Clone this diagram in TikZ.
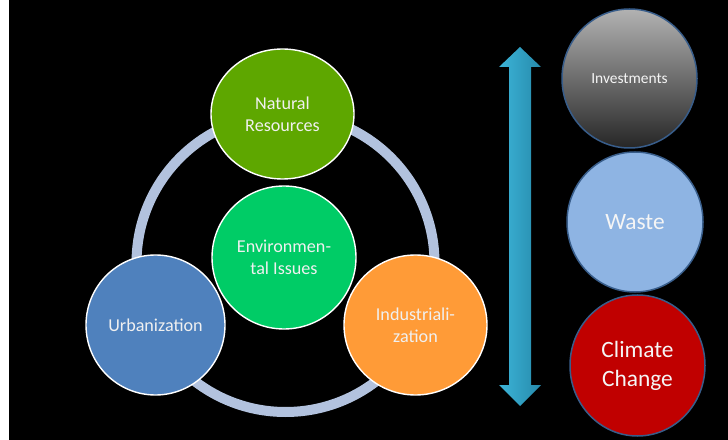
\documentclass[tikz,border=0pt]{standalone}
\usepackage{fontspec}
\setmainfont{Carlito}
\usetikzlibrary{shapes.geometric}
\definecolor{ringBlue}{RGB}{178,194,222}
\definecolor{natGreen}{RGB}{94,167,0}
\definecolor{envGreen}{RGB}{0,204,102}
\definecolor{urbBlue}{RGB}{79,129,189}
\definecolor{indOrange}{RGB}{255,155,55}
\definecolor{wasteBlue}{RGB}{142,180,227}
\definecolor{climRed}{RGB}{192,0,0}
\definecolor{ballEdge}{RGB}{56,93,138}
\definecolor{arrowLight}{RGB}{60,180,215}
\definecolor{arrowDark}{RGB}{38,138,172}
\begin{document}
\begin{tikzpicture}
[x=1bp,y=-1bp,%
  ringLine/.style={line width=10bp,color=ringBlue},%
  leftBall/.style={shape=ellipse,inner sep=0pt,draw=white,line width=1.4bp,text=white!94!black,align=center,font=\fontsize{18.2}{22}\selectfont},%
  rightBall/.style={shape=ellipse,inner sep=0pt,draw=ballEdge,line width=1.5bp,text=white!96!black,align=center,font=\fontsize{23.5}{29}\selectfont}]
%% background
\useasboundingbox (0,0) rectangle (728,440);
\fill[black] (9,0) rectangle (728,440);
%% ring behind the circles
\draw[ringLine] (285.5,263) circle [radius=149];
%% left circles
\foreach \nodename/\x/\y/\w/\h/\c/\txt in {natres/282.5/114/143/130/natGreen/{Natural\\Resources},
  envir/284/257.5/144/143/envGreen/{Environmen-\\tal Issues},
  urban/155.5/325/139/140/urbBlue/{Urbanization},
  indus/415.5/325/143/140/indOrange/{Industriali-\\zation}}
{
  \node (\nodename) at (\x,\y) [leftBall,fill=\c,minimum width=\w bp,minimum height=\h bp] {\txt};
}
%% right circles
\node (invest) at (629.5,78.5) [rightBall,minimum width=135bp,minimum height=139bp,
  top color=black!30,middle color=black!65,bottom color=black!85,
  font=\fontsize{15.5}{19}\selectfont] {Investments};
\foreach \nodename/\x/\y/\w/\h/\c/\txt in {waste/635/222/136/140/wasteBlue/{Waste},
  climate/637.5/365.5/135/141/climRed/{Climate\\Change}}
{
  \node (\nodename) at (\x,\y) [rightBall,fill=\c,minimum width=\w bp,minimum height=\h bp] {\txt};
}
%% double arrow
\shade[left color=arrowLight,right color=arrowDark]
  (520,47) -- (541,67) -- (531,67) -- (531,385) -- (541,385) -- (520,406)
  -- (499,385) -- (509,385) -- (509,67) -- (499,67) -- cycle;
\end{tikzpicture}
\end{document}
